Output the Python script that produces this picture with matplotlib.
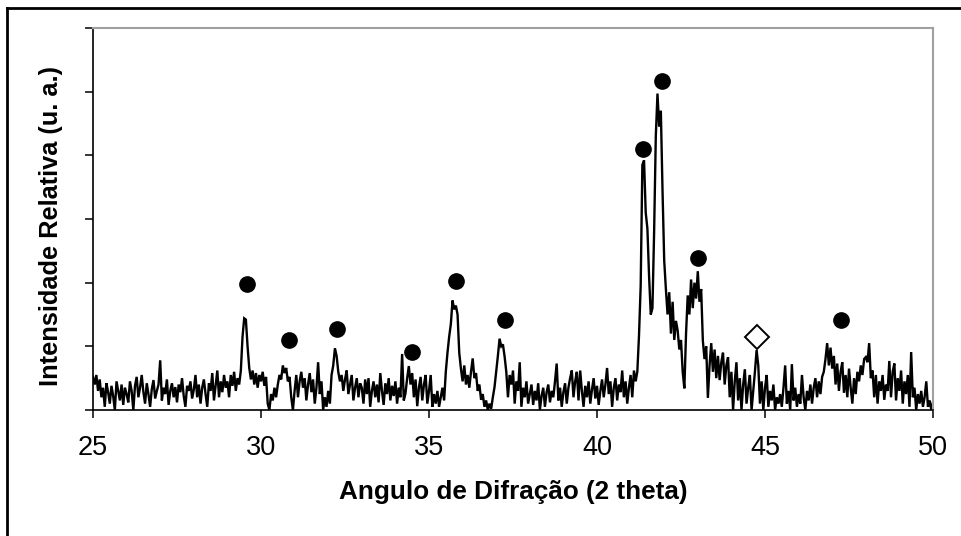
import numpy as np
import matplotlib
matplotlib.use("Agg")
import matplotlib.pyplot as plt
from matplotlib.lines import Line2D

plt.rcParams['font.family'] = ['Liberation Sans', 'DejaVu Sans']

# XRD scan, 2-theta from 25 to 50 in steps of 0.05 degree (one row per degree)
i25 = [52, 40, 55, 30, 48, 20, 35, 5, 42, 28, 10, 38, 22, 0, 45, 30, 15, 40, 8, 35]
i26 = [25, 12, 45, 30, 0, 38, 52, 20, 35, 55, 28, 10, 42, 25, 5, 33, 47, 18, 30, 40]
i27 = [78, 15, 35, 25, 48, 8, 30, 42, 20, 36, 12, 40, 28, 50, 22, 5, 38, 30, 45, 18]
i28 = [32, 55, 20, 40, 10, 35, 48, 25, 5, 42, 30, 58, 15, 38, 62, 20, 45, 28, 55, 35]
i29 = [45, 20, 55, 38, 60, 30, 50, 40, 62, 115, 144, 142, 100, 66, 48, 62, 40, 58, 35, 55]
i30 = [45, 60, 38, 52, 10, 0, 25, 15, 35, 20, 40, 55, 48, 70, 58, 66, 45, 52, 20, 0]
i31 = [30, 55, 20, 45, 60, 35, 50, 15, 40, 58, 28, 48, 10, 35, 75, 25, 45, 0, 20, 5]
i32 = [30, 10, 55, 70, 97, 85, 60, 45, 55, 30, 48, 62, 25, 40, 55, 15, 35, 50, 20, 42]
i33 = [35, 10, 48, 25, 50, 5, 30, 45, 20, 40, 12, 58, 30, 8, 42, 25, 50, 15, 38, 22]
i34 = [45, 10, 35, 20, 88, 15, 26, 50, 69, 40, 58, 20, 48, 6, 35, 52, 15, 40, 55, 10]
i35 = [30, 55, 5, 25, 10, 30, 5, 20, 35, 15, 60, 90, 115, 135, 172, 158, 164, 150, 90, 65]
i36 = [45, 70, 40, 55, 35, 60, 81, 50, 58, 30, 40, 16, 25, 5, 15, 0, 10, 2, 20, 36]
i37 = [60, 85, 112, 100, 103, 84, 60, 20, 55, 40, 62, 10, 45, 30, 75, 5, 35, 20, 45, 10]
i38 = [25, 40, 8, 30, 15, 42, 0, 22, 35, 5, 28, 40, 12, 30, 20, 45, 73, 15, 35, 5]
i39 = [28, 42, 10, 35, 50, 62, 20, 45, 60, 15, 62, 30, 5, 38, 20, 45, 10, 32, 50, 18]
i40 = [38, 8, 30, 48, 20, 40, 66, 25, 45, 5, 35, 50, 15, 40, 28, 62, 20, 45, 10, 35]
i41 = [55, 20, 62, 45, 60, 117, 195, 385, 392, 310, 285, 210, 150, 160, 280, 430, 497, 445, 470, 345]
i42 = [235, 190, 150, 185, 120, 170, 110, 140, 125, 95, 110, 60, 34, 120, 180, 150, 205, 160, 200, 175]
i43 = [218, 170, 190, 109, 80, 100, 19, 70, 105, 60, 95, 50, 85, 47, 75, 90, 40, 70, 83, 20]
i44 = [60, 0, 45, 75, 15, 50, 0, 40, 64, 10, 35, 55, 0, 30, 60, 94, 70, 10, 45, 0]
i45 = [35, 55, 5, 30, 15, 40, 0, 20, 10, 25, 5, 35, 70, 10, 30, 0, 72, 15, 35, 5]
i46 = [25, 10, 55, 20, 0, 30, 15, 40, 10, 35, 50, 20, 45, 25, 52, 60, 80, 105, 70, 98]
i47 = [65, 85, 40, 73, 30, 60, 75, 27, 55, 20, 65, 35, 10, 50, 25, 60, 45, 70, 55, 80]
i48 = [83, 75, 105, 50, 62, 20, 55, 10, 45, 30, 55, 16, 40, 30, 77, 20, 60, 73, 15, 50]
i49 = [30, 62, 10, 45, 25, 55, 5, 91, 20, 35, 0, 25, 10, 30, 5, 20, 45, 5, 15, 0]
i50 = [12]

intensity = np.array(i25 + i26 + i27 + i28 + i29 + i30 + i31 + i32 + i33 + i34 + i35 + i36 + i37
                     + i38 + i39 + i40 + i41 + i42 + i43 + i44 + i45 + i46 + i47 + i48 + i49 + i50,
                     dtype=float)
two_theta = np.linspace(25, 50, len(intensity))

# phase markers
circle_x = [29.58, 30.83, 32.27, 34.5, 35.8, 37.27, 41.38, 41.93, 43.02, 47.26]
circle_y = [198, 110, 128, 91, 203, 142, 410, 517, 239, 142]
diamond_x = [44.76]
diamond_y = [114]

x_ticks = [25, 30, 35, 40, 45, 50]
xlabel = "Angulo de Difração (2 theta)"
ylabel = "Intensidade Relativa (u. a.)"

W, H = 962, 536
fig = plt.figure(figsize=(W / 100, H / 100), dpi=100)
ax = fig.add_axes([93 / W, 1 - 410 / H, (933 - 93) / W, (410 - 28) / H])

ax.plot(two_theta, intensity, color='black', lw=1.7, solid_joinstyle='miter')
ax.plot(circle_x, circle_y, 'o', color='black', ms=11, clip_on=False)
ax.plot(diamond_x, diamond_y, 'D', mfc='white', mec='black', ms=12.5, mew=1.4)

ax.set_xlim(25, 50)
ax.set_ylim(0, 600)
ax.set_xticks(x_ticks)
ax.set_xticklabels([str(t) for t in x_ticks], fontsize=19.5)
ax.set_yticks(range(0, 700, 100))
ax.set_yticklabels([])
ax.tick_params(axis='both', direction='out', length=6, width=1.1, color='black', pad=12)

for s in ['left', 'bottom']:
    ax.spines[s].set_color('black')
    ax.spines[s].set_linewidth(1.2)
for s in ['top', 'right']:
    ax.spines[s].set_color('#a0a0a0')
    ax.spines[s].set_linewidth(1.5)

fig.text(513 / W, 1 - 492 / H, xlabel, ha='center', va='center', fontsize=18.8, fontweight='bold')
fig.text(51 / W, 1 - 226 / H, ylabel, ha='center', va='center', rotation=90, fontsize=18.3,
         fontweight='bold')

# outer frame (left and top visible)
fig.add_artist(Line2D([7 / W, 7 / W], [0, 1 - 8 / H], color='black', lw=2, transform=fig.transFigure))
fig.add_artist(Line2D([7 / W, 1], [1 - 8 / H, 1 - 8 / H], color='black', lw=2, transform=fig.transFigure))

fig.savefig('out.png', dpi=100)
